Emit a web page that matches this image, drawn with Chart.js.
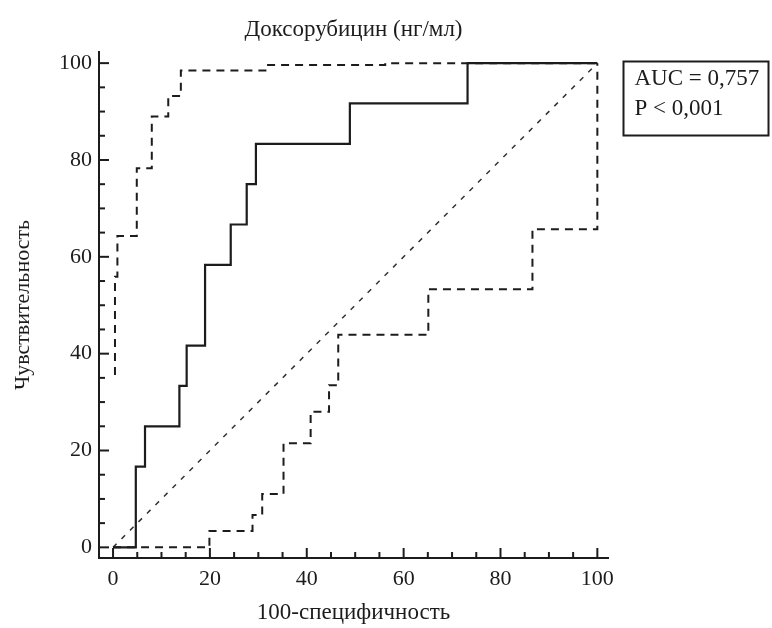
<!DOCTYPE html>
<html>
<head>
<meta charset="utf-8">
<script src="https://cdn.jsdelivr.net/npm/chart.js@4/dist/chart.umd.min.js"></script>
<style>
  html, body { margin: 0; padding: 0; background: #fff; }
  #roc { display: block; }
</style>
</head>
<body>
<canvas id="roc" width="772" height="628"></canvas>
<script>
// ROC curve, step points (100-specificity, sensitivity)
var rocX = [0, 4.7, 6.6, 13.7, 15.2, 19.0, 24.3, 27.6, 29.5, 48.9, 73.2, 100];
var rocY = [0, 16.67, 25, 33.33, 41.67, 58.33, 66.67, 75, 83.33, 91.67, 100, 100];

// upper confidence bound
var upperX = [0.4, 0.4, 0.9, 4.9, 8.0, 11.4, 14.0, 31.7, 56.2, 100];
var upperY = [35.6, 55.9, 64.3, 78.3, 89.0, 93.2, 98.5, 99.6, 100, 100];

// lower confidence bound
var lowerX = [0, 19.9, 28.8, 30.8, 35.2, 40.8, 44.6, 46.5, 65.1, 86.6, 100];
var lowerY = [0, 3.4, 6.7, 11.0, 21.5, 28.0, 33.5, 43.9, 53.3, 65.7, 100];

// reference diagonal
var diagX = [0, 100];
var diagY = [0, 100];

var tickValues = [0, 20, 40, 60, 80, 100];
var statLines = ['AUC = 0,757', 'P < 0,001'];

var ink = '#1c1c1c';
var serif = 'Liberation Serif, Times New Roman, serif';

function toPoints(xs, ys) {
  var pts = [];
  for (let i = 0; i < xs.length; i++) {
    pts.push({x: xs[i], y: ys[i]});
  }
  return pts;
}

// tick marks pointing into the plot, major every 20, minor every 5
var innerTicks = {
  id: 'innerTicks',
  afterDraw: function(chart) {
    var ctx = chart.ctx;
    var xs = chart.scales.x, ys = chart.scales.y;
    var area = chart.chartArea;
    ctx.save();
    ctx.strokeStyle = ink;
    ctx.lineWidth = 2;
    for (let v = 0; v <= 100; v += 5) {
      var len = (v % 20 === 0) ? 10 : 6;
      var px = xs.getPixelForValue(v);
      ctx.beginPath();
      ctx.moveTo(px, area.bottom);
      ctx.lineTo(px, area.bottom - len);
      ctx.stroke();
      var py = ys.getPixelForValue(v);
      ctx.beginPath();
      ctx.moveTo(area.left, py);
      ctx.lineTo(area.left + len, py);
      ctx.stroke();
    }
    ctx.restore();
  }
};

// boxed AUC / P annotation right of the plot
var statBox = {
  id: 'statBox',
  afterDraw: function(chart) {
    var ctx = chart.ctx;
    var area = chart.chartArea;
    var left = area.right + 15.5;
    var top = area.top + 9.5;
    ctx.save();
    ctx.strokeStyle = ink;
    ctx.lineWidth = 2;
    ctx.strokeRect(left, top, 145, 74);
    ctx.fillStyle = ink;
    ctx.font = '23px ' + serif;
    ctx.textBaseline = 'middle';
    ctx.textAlign = 'left';
    for (let i = 0; i < statLines.length; i++) {
      ctx.fillText(statLines[i], left + 11, top + 17 + i * 30);
    }
    ctx.restore();
  }
};

var tickFont = {family: serif, size: 22};

var config = {
  type: 'line',
  data: {
    datasets: [
      {
        label: 'ROC',
        data: toPoints(rocX, rocY),
        borderColor: ink,
        borderWidth: 2.2,
        stepped: 'before',
        pointRadius: 0
      },
      {
        label: 'upper',
        data: toPoints(upperX, upperY),
        borderColor: ink,
        borderWidth: 2,
        borderDash: [8, 6],
        stepped: 'before',
        pointRadius: 0
      },
      {
        label: 'lower',
        data: toPoints(lowerX, lowerY),
        borderColor: ink,
        borderWidth: 2,
        borderDash: [8, 6],
        stepped: 'before',
        pointRadius: 0
      },
      {
        label: 'diagonal',
        data: toPoints(diagX, diagY),
        borderColor: '#333',
        borderWidth: 1.5,
        borderDash: [5, 7],
        pointRadius: 0
      }
    ]
  },
  options: {
    responsive: false,
    animation: false,
    events: [],
    layout: {padding: {left: 0, right: 164, top: 0, bottom: 0}},
    plugins: {
      legend: {display: false},
      tooltip: {enabled: false},
      title: {
        display: true,
        text: 'Доксорубицин (нг/мл)',
        fullSize: false,
        color: ink,
        font: {family: serif, size: 23, weight: 'normal'},
        padding: {top: 16, bottom: 8.4}
      }
    },
    scales: {
      x: {
        type: 'linear',
        min: -2.9,
        max: 102.2,
        grid: {display: false, drawTicks: false},
        border: {display: true, color: ink, width: 2},
        afterBuildTicks: function(scale) {
          scale.ticks = tickValues.map(v => ({value: v}));
        },
        afterFit: function(scale) { scale.height = 70; },
        ticks: {color: ink, font: tickFont, padding: 8, maxRotation: 0},
        title: {
          display: true,
          text: '100-специфичность',
          color: ink,
          font: {family: serif, size: 23},
          padding: {top: 0, bottom: 1}
        }
      },
      y: {
        type: 'linear',
        min: -2.2,
        max: 102.3,
        grid: {display: false, drawTicks: false},
        border: {display: true, color: ink, width: 2},
        afterBuildTicks: function(scale) {
          scale.ticks = tickValues.map(v => ({value: v}));
        },
        afterFit: function(scale) { scale.width = 99; },
        ticks: {color: ink, font: tickFont, padding: 7},
        title: {
          display: true,
          text: 'Чувствительность',
          color: ink,
          font: {family: serif, size: 22},
          padding: {top: 10, bottom: 0}
        }
      }
    }
  },
  plugins: [innerTicks, statBox]
};

new Chart(document.getElementById('roc'), config);
</script>
</body>
</html>
